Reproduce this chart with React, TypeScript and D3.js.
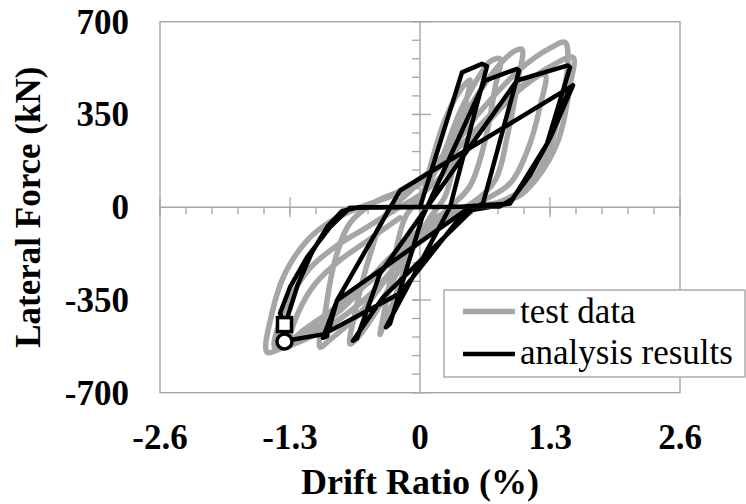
import React from 'react';
import * as d3 from 'd3';

const xTicks = [-2.6, -1.3, 0, 1.3, 2.6];
const xTickLabels = ['-2.6', '-1.3', '0', '1.3', '2.6'];
const yTicks = [-700, -350, 0, 350, 700];
const yTickLabels = ['-700', '-350', '0', '350', '700'];

const testDrift = [
  0, 0.1, 0.25, 0.4, 0.5,
  0.45, 0.35, 0.25, 0.1, -0.1, -0.25, -0.37, -0.4,
  -0.35, -0.25, -0.15, 0, 0.2, 0.4, 0.6, 0.7, 0.8,
  0.75, 0.65, 0.5, 0.3, 0.05, -0.2, -0.45, -0.62, -0.7,
  -0.65, -0.5, -0.35, -0.1, 0.2, 0.5, 0.8, 0.95, 1.02,
  0.98, 0.88, 0.75, 0.5, 0.2, -0.2, -0.6, -0.9, -1.0,
  -0.95, -0.85, -0.7, -0.45, -0.15, 0.2, 0.6, 1.0, 1.3, 1.45,
  1.48, 1.42, 1.3, 1.1, 0.8, 0.4, 0, -0.5, -1.0, -1.4, -1.53,
  -1.48, -1.35, -1.13, -0.9, -0.6, -0.3, 0, 0.4, 0.9, 1.3, 1.53,
  1.5, 1.38, 1.15, 0.97, 0.6, 0.2, -0.3, -0.8, -1.2, -1.45,
  -1.4, -1.28, -1.1, -0.85, -0.55, -0.25, 0.05, 0.35, 0.7, 1.05, 1.25,
  1.2, 1.08, 0.9, 0.6, 0.25, -0.15, -0.5, -0.85, -1.15, -1.3,
  -1.22, -1.05, -0.8, -0.5, -0.2,
];
const testForce = [
  0, 150, 330, 440, 480,
  380, 180, 40, -40, -180, -340, -450, -480,
  -380, -180, -40, 40, 170, 360, 500, 550, 560,
  450, 250, 80, 0, -90, -230, -400, -490, -516,
  -400, -180, -30, 60, 180, 380, 540, 590, 595,
  480, 280, 100, 10, -40, -200, -400, -500, -528,
  -400, -200, -60, 20, 70, 170, 360, 520, 600, 622,
  560, 400, 230, 90, 20, -20, -120, -330, -470, -535, -547,
  -400, -250, -126, -55, 0, 40, 90, 230, 420, 530, 565,
  460, 250, 100, 38, 5, -30, -190, -390, -490, -530,
  -430, -330, -230, -150, -80, -10, 60, 170, 330, 460, 500,
  380, 220, 90, 20, -40, -160, -280, -380, -460, -500,
  -400, -290, -200, -120, -40,
];

const analysisDrift = [
  0, 0.42, 0.62, 0.67, 0.3,
  -0.34, -0.3, 0.02, 0.07,
  0.65, 0.97, 0.99, 0.63, 0.55,
  -0.37, -0.67, -0.63, -0.4,
  0.97, 1.48, 1.5, 1.27, 0.9, 0.5,
  -0.83, -0.97, -0.93, -0.83,
  -0.2, 1.53, 1.5, 1.27, 0.9, 0.45,
  -0.2, -0.97, -1.37,
  -1.33, -1.22, -1.08, -0.92, -0.78, -0.62,
  0.8, 0.92, 1.1, 1.3, 1.53, 1.5, 1.27, 0.9, 0.4,
  -0.7, -0.9, -1.13, -1.3, -1.4, -1.355,
];
const analysisForce = [
  0, 509, 541, 532, 0,
  -453, -440, -40, 0,
  478, 522, 515, 14, 0,
  -340, -504, -495, -250,
  478, 535, 528, 240, 14, 0,
  -352, -493, -487, -352,
  63, 460, 445, 240, 14, -15,
  -325, -480, -506,
  -420, -290, -170, -70, -15, 0,
  3, 30, 120, 260, 460, 450, 240, 14, 2,
  -2, -75, -189, -302, -400, -443,
];

const endDrift = -1.355;
const endSquareForce = -443;
const endCircleForce = -507;

const legendItems = ['test data', 'analysis results'];

const GRAY = '#a6a6a6';
const FONT = 'Liberation Serif';

export default function App() {
  const x = d3.scaleLinear().domain([-2.6, 2.6]).range([160, 680]);
  const y = d3.scaleLinear().domain([-700, 700]).range([392.7, 21.7]);
  const x0 = x(0);
  const y0 = y(0);

  const line = d3
    .line<[number, number]>()
    .x((d) => x(d[0]))
    .y((d) => y(d[1]));
  const smooth = d3
    .line<[number, number]>()
    .x((d) => x(d[0]))
    .y((d) => y(d[1]))
    .curve(d3.curveCatmullRom.alpha(0.5));

  const testPts = testDrift.map((d, i) => [d, testForce[i]] as [number, number]);
  const anaPts = analysisDrift.map((d, i) => [d, analysisForce[i]] as [number, number]);

  const xMinor = d3.range(-2.6, 2.6001, 0.26);
  const yMinor = d3.range(-700, 700.1, 70);

  const bold = { fontFamily: FONT, fontWeight: 'bold' as const };

  return (
    <svg
      width={746}
      height={504}
      style={{ position: 'absolute', left: 0, top: 0, background: '#fff' }}
    >
      <rect x={0} y={0} width={746} height={504} fill="#fff" />
      <rect
        x={x(-2.6)}
        y={y(700)}
        width={x(2.6) - x(-2.6)}
        height={y(-700) - y(700)}
        fill="none"
        stroke={GRAY}
        strokeWidth={1.4}
      />
      <line x1={x(-2.6)} x2={x(2.6)} y1={y0} y2={y0} stroke={GRAY} strokeWidth={1.4} />
      <line x1={x0} x2={x0} y1={y(700)} y2={y(-700)} stroke={GRAY} strokeWidth={1.4} />
      {xMinor.map((v, i) => (
        <line key={'xm' + i} x1={x(v)} x2={x(v)} y1={y0} y2={y0 + 7} stroke={GRAY} strokeWidth={1.3} />
      ))}
      {xTicks.map((v, i) => (
        <line key={'xM' + i} x1={x(v)} x2={x(v)} y1={y0 - 10} y2={y0 + 10} stroke={GRAY} strokeWidth={1.3} />
      ))}
      {yMinor.map((v, i) => (
        <line key={'ym' + i} x1={x0 - 8} x2={x0} y1={y(v)} y2={y(v)} stroke={GRAY} strokeWidth={1.3} />
      ))}
      {yTicks.map((v, i) => (
        <line key={'yM' + i} x1={x0 - 8} x2={x0 + 11} y1={y(v)} y2={y(v)} stroke={GRAY} strokeWidth={1.3} />
      ))}

      <path
        d={smooth(testPts) || ''}
        fill="none"
        stroke={GRAY}
        strokeWidth={5.5}
        strokeLinejoin="round"
        strokeLinecap="round"
      />
      <path
        d={line(anaPts) || ''}
        fill="none"
        stroke="#000"
        strokeWidth={4.5}
        strokeLinejoin="round"
        strokeLinecap="round"
      />
      <rect
        x={x(endDrift) - 7}
        y={y(endSquareForce) - 7}
        width={14}
        height={14}
        fill="#fff"
        stroke="#000"
        strokeWidth={3.5}
      />
      <circle cx={x(endDrift)} cy={y(endCircleForce)} r={7.5} fill="#fff" stroke="#000" strokeWidth={3.5} />

      {yTicks.map((v, i) => (
        <text key={'yl' + i} x={129} y={y(v) + 12} textAnchor="end" style={{ ...bold, fontSize: 35 }}>
          {yTickLabels[i]}
        </text>
      ))}
      {xTicks.map((v, i) => (
        <text key={'xl' + i} x={x(v)} y={449} textAnchor="middle" style={{ ...bold, fontSize: 35 }}>
          {xTickLabels[i]}
        </text>
      ))}

      <text x={420} y={494} textAnchor="middle" style={{ ...bold, fontSize: 36 }}>
        Drift Ratio (%)
      </text>
      <text
        transform={`translate(40, ${y0}) rotate(-90)`}
        textAnchor="middle"
        style={{ ...bold, fontSize: 35 }}
      >
        Lateral Force (kN)
      </text>

      <rect x={444} y={290} width={301} height={87} fill="#fff" stroke={GRAY} strokeWidth={1.4} />
      <line x1={463} x2={515} y1={311.5} y2={311.5} stroke={GRAY} strokeWidth={5.5} />
      <line x1={463} x2={515} y1={354} y2={354} stroke="#000" strokeWidth={4.5} />
      <text x={520} y={323} style={{ fontFamily: FONT, fontSize: 35 }}>
        {legendItems[0]}
      </text>
      <text x={520} y={364} style={{ fontFamily: FONT, fontSize: 35 }}>
        {legendItems[1]}
      </text>
    </svg>
  );
}
